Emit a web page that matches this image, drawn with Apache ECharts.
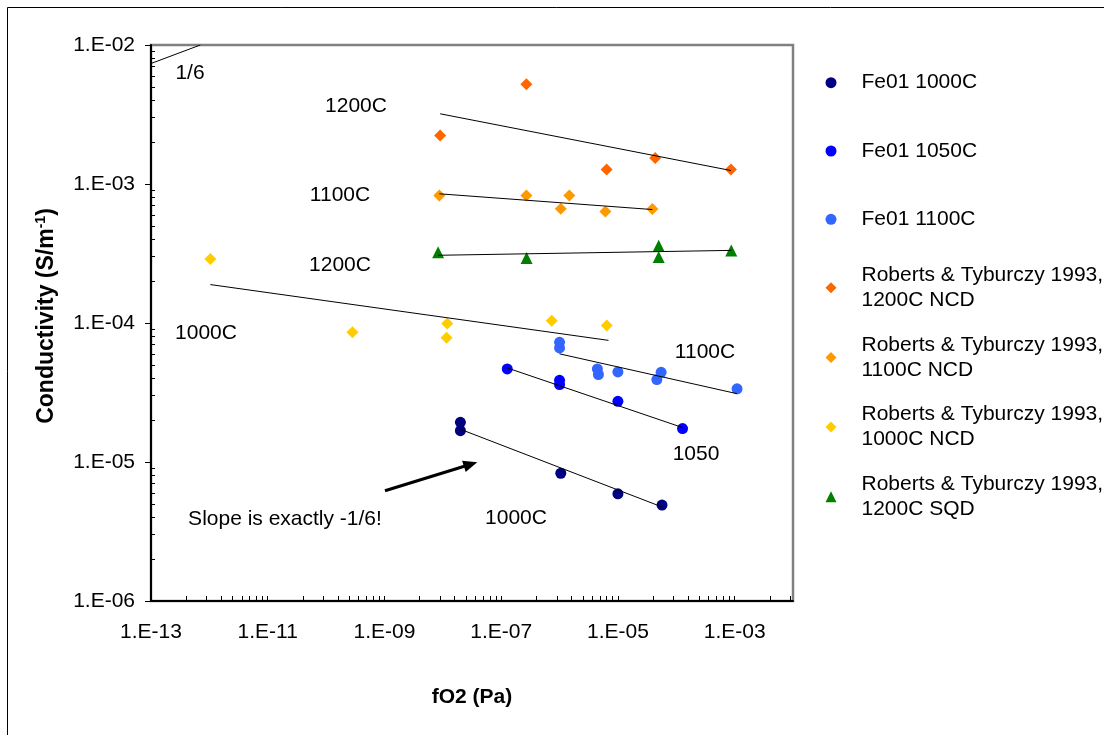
<!DOCTYPE html>
<html>
<head>
<meta charset="utf-8">
<title>Conductivity vs fO2</title>
<script src="https://cdn.jsdelivr.net/npm/echarts@6/dist/echarts.min.js"></script>
<style>
  html, body { margin: 0; padding: 0; background: #fff; }
  #chart { width: 1104px; height: 735px; }
</style>
</head>
<body>
<div id="chart"></div>
<script>
// ---- data: [fO2 (Pa), conductivity (S/m)] ----
const fe01_1000C = [[2.0e-8, 1.93e-5], [2.0e-8, 1.68e-5], [1.05e-6, 8.3e-6], [1.0e-5, 5.9e-6], [5.7e-5, 4.9e-6]];
const fe01_1050C = [[1.27e-7, 4.67e-5], [1.0e-6, 3.87e-5], [1.0e-6, 3.61e-5], [1.0e-5, 2.73e-5], [1.28e-4, 1.74e-5]];
const fe01_1100C = [[1.0e-6, 7.26e-5], [1.0e-6, 6.62e-5], [4.45e-6, 4.67e-5], [4.63e-6, 4.26e-5], [1.0e-5, 4.45e-5],
                    [4.65e-5, 3.92e-5], [5.5e-5, 4.42e-5], [1.1e-3, 3.36e-5]];
const rt1200NCD = [[9.0e-9, 2.23e-3], [2.7e-7, 5.22e-3], [6.4e-6, 1.27e-3], [4.35e-5, 1.54e-3], [8.65e-4, 1.27e-3]];
const rt1100NCD = [[8.7e-9, 8.26e-4], [2.7e-7, 8.26e-4], [1.47e-6, 8.26e-4], [1.05e-6, 6.65e-4], [6.1e-6, 6.33e-4], [3.9e-5, 6.6e-4]];
const rt1000NCD = [[1.04e-12, 2.89e-4], [2.83e-10, 8.57e-5], [1.19e-8, 9.9e-5], [1.16e-8, 7.82e-5], [7.35e-7, 1.04e-4], [6.44e-6, 9.6e-5]];
const rt1200SQD = [[8.3e-9, 3.23e-4], [2.72e-7, 2.93e-4], [5.0e-5, 3.6e-4], [5.0e-5, 2.99e-4], [8.75e-4, 3.33e-4]];

// power-law trend lines (end points)
const fit_fe1000 = [[2.0e-8, 1.72e-5], [5.7e-5, 4.75e-6]];
const fit_fe1050 = [[1.27e-7, 4.75e-5], [1.28e-4, 1.77e-5]];
const fit_fe1100 = [[1.0e-6, 6.0e-5], [1.1e-3, 3.1e-5]];
const fit_rt1200NCD = [[9.0e-9, 3.2e-3], [8.65e-4, 1.25e-3]];
const fit_rt1100NCD = [[8.7e-9, 8.5e-4], [3.9e-5, 6.55e-4]];
const fit_rt1000NCD = [[1.04e-12, 1.89e-4], [6.9e-6, 7.5e-5]];
const fit_rt1200SQD = [[8.3e-9, 3.07e-4], [8.75e-4, 3.33e-4]];
// reference slope of 1/6
const slopeSixth = [[1.0e-13, 7.36e-3], [7.0e-13, 1.0e-2]];

// ---- axes ----
const xMin = 1e-13, xMax = 1e-2;
const yMin = 1e-6, yMax = 1e-2;
const xTickLabels = [1e-13, 1e-11, 1e-9, 1e-7, 1e-5, 1e-3];
const xMinorFactors = [4, 9, 16, 25, 36, 49, 64, 81];   // sub-ticks inside each two-decade step
const yMinorFactors = [2, 3, 4, 5, 6, 7, 8, 9];
const yDecades = [1e-6, 1e-5, 1e-4, 1e-3];

const xTicks = [];
xTickLabels.forEach(b => {
  xTicks.push(b);
  xMinorFactors.forEach(f => { if (f * b <= xMax * 1.0001) xTicks.push(f * b); });
});
const yMinorTicks = [];
yDecades.forEach(b => yMinorFactors.forEach(f => yMinorTicks.push(f * b)));

const FONT = '"Liberation Sans", Arial, Helvetica, sans-serif';
const FS = 21;

function expLabel(v) {
  const e = Math.round(Math.log10(v));
  return '1.E' + (e < 0 ? '-' : '+') + String(Math.abs(e)).padStart(2, '0');
}

function scatter(name, data, color, symbol, size) {
  return {
    name, type: 'scatter', data, symbol, symbolSize: size,
    itemStyle: { color, opacity: 1 }, z: 3, emphasis: { disabled: true }
  };
}
function fitLine(data) {
  return {
    type: 'line', data, symbol: 'none', silent: true, z: 4,
    lineStyle: { color: '#000', width: 1 }, emphasis: { disabled: true }
  };
}

const legendText = { fontSize: FS, fontFamily: FONT, color: '#000', lineHeight: 25 };

function label(text, x, y) {
  return {
    type: 'text', x, y, z: 10,
    style: { text, font: FS + 'px ' + FONT, fill: '#000', align: 'center', verticalAlign: 'middle' }
  };
}

const option = {
  animation: false,
  backgroundColor: '#fff',
  grid: {
    left: 151, top: 45, width: 642, height: 556,
    show: true, borderColor: '#808080', borderWidth: 2.5, backgroundColor: 'transparent'
  },
  xAxis: {
    type: 'log', logBase: 10, min: xMin, max: xMax,
    name: 'fO2 (Pa)', nameLocation: 'middle', nameGap: 84,
    nameTextStyle: { fontSize: FS, fontWeight: 'bold', fontFamily: FONT, color: '#000', lineHeight: 24 },
    axisLine: { lineStyle: { color: '#000', width: 2 } },
    axisTick: { inside: true, length: 5, customValues: xTicks, lineStyle: { color: '#000', width: 1 } },
    axisLabel: { customValues: xTickLabels, formatter: expLabel, margin: 21,
                 fontSize: FS, fontFamily: FONT, color: '#000' },
    splitLine: { show: false }
  },
  yAxis: [
    {
      type: 'log', logBase: 10, min: yMin, max: yMax, position: 'left',
      name: '{t|Conductivity (S/m}{s|-1}{t|)}', nameLocation: 'middle', nameRotate: 90, nameGap: 91,
      nameTextStyle: {
        padding: [0, 0, 0, 14],
        rich: {
          t: { fontSize: 23, fontWeight: 'bold', fontFamily: FONT, color: '#000', lineHeight: 26 },
          s: { fontSize: 14, fontWeight: 'bold', fontFamily: FONT, color: '#000', lineHeight: 13, verticalAlign: 'top' }
        }
      },
      axisLine: { lineStyle: { color: '#000', width: 2 } },
      axisTick: { inside: false, length: 6, lineStyle: { color: '#000', width: 1 } },
      axisLabel: { formatter: expLabel, margin: 16, fontSize: FS, fontFamily: FONT, color: '#000' },
      splitLine: { show: false }
    },
    {
      type: 'log', logBase: 10, min: yMin, max: yMax, position: 'left',
      axisLine: { show: false },
      axisTick: { inside: true, length: 4, customValues: yMinorTicks, lineStyle: { color: '#000', width: 1 } },
      axisLabel: { show: false },
      splitLine: { show: false }
    }
  ],
  legend: [
    {
      orient: 'vertical', left: 825.5, top: 70.2, padding: 0, itemGap: 43.3,
      itemWidth: 11, itemHeight: 11, selectedMode: false,
      textStyle: Object.assign({ padding: [0, 0, 0, 20] }, legendText),
      data: [
        { name: 'Fe01 1000C', icon: 'circle' },
        { name: 'Fe01 1050C', icon: 'circle' },
        { name: 'Fe01 1100C', icon: 'circle' }
      ]
    },
    {
      orient: 'vertical', left: 825.5, top: 250.2, padding: 0, itemGap: -5.3,
      itemWidth: 11, itemHeight: 11, selectedMode: false,
      textStyle: Object.assign({ padding: [25, 0, 0, 20] }, legendText),
      formatter: name => name.replace(', ', ',\n'),
      data: [
        { name: 'Roberts & Tyburczy 1993, 1200C NCD', icon: 'diamond' },
        { name: 'Roberts & Tyburczy 1993, 1100C NCD', icon: 'diamond' },
        { name: 'Roberts & Tyburczy 1993, 1000C NCD', icon: 'diamond' },
        { name: 'Roberts & Tyburczy 1993, 1200C SQD', icon: 'triangle' }
      ]
    }
  ],
  series: [
    scatter('Fe01 1000C', fe01_1000C, '#000080', 'circle', 11),
    scatter('Fe01 1050C', fe01_1050C, '#0000FF', 'circle', 11),
    scatter('Fe01 1100C', fe01_1100C, '#3366FF', 'circle', 11),
    scatter('Roberts & Tyburczy 1993, 1200C NCD', rt1200NCD, '#FF6600', 'diamond', 12),
    scatter('Roberts & Tyburczy 1993, 1100C NCD', rt1100NCD, '#FF9900', 'diamond', 12),
    scatter('Roberts & Tyburczy 1993, 1000C NCD', rt1000NCD, '#FFCC00', 'diamond', 12),
    scatter('Roberts & Tyburczy 1993, 1200C SQD', rt1200SQD, '#008000', 'triangle', 12),
    fitLine(fit_fe1000),
    fitLine(fit_fe1050),
    fitLine(fit_fe1100),
    fitLine(fit_rt1200NCD),
    fitLine(fit_rt1100NCD),
    fitLine(fit_rt1000NCD),
    fitLine(fit_rt1200SQD),
    fitLine(slopeSixth)
  ],
  graphic: [
    // outer chart frame
    { type: 'rect', z: 0, silent: true,
      shape: { x: 7.5, y: 7.5, width: 1200, height: 800 },
      style: { fill: 'none', stroke: '#000', lineWidth: 1 } },
    label('1/6', 190, 73),
    label('1200C', 356, 106),
    label('1100C', 340, 195),
    label('1200C', 340, 265),
    label('1000C', 206, 333),
    label('1100C', 705, 352),
    label('1050', 696, 454),
    label('1000C', 516, 518),
    label('Slope is exactly -1/6!', 285, 519),
    // arrow pointing at the 1000C trend
    { type: 'line', z: 10, silent: true,
      shape: { x1: 385, y1: 490.7, x2: 466, y2: 465.8 },
      style: { stroke: '#000', lineWidth: 3 } },
    { type: 'polygon', z: 10, silent: true,
      shape: { points: [[477.3, 462.3], [465.7, 472.1], [462.1, 460.7]] },
      style: { fill: '#000' } }
  ]
};

const chart = echarts.init(document.getElementById('chart'));
chart.setOption(option);
</script>
</body>
</html>
